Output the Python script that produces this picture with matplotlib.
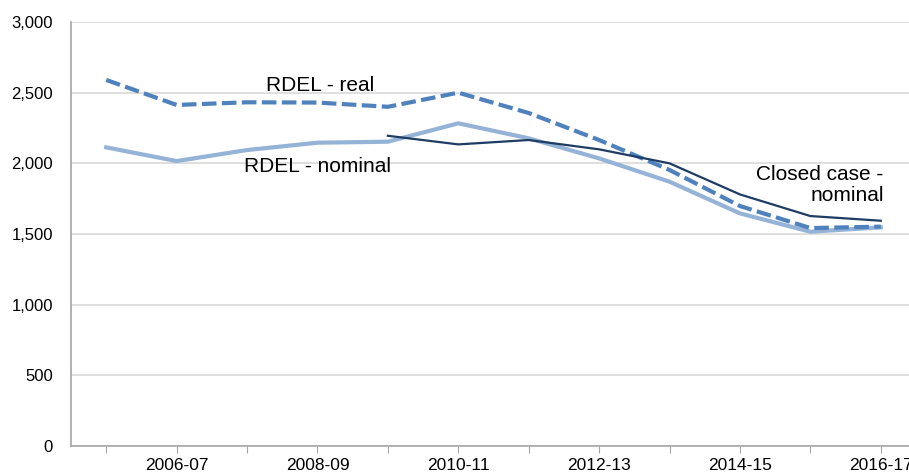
import numpy as np
import matplotlib.pyplot as plt

plt.rcParams['font.family'] = ['Liberation Sans', 'DejaVu Sans']

# ============================================================
# Data
# ============================================================
years = ['2005-06', '2006-07', '2007-08', '2008-09', '2009-10', '2010-11',
         '2011-12', '2012-13', '2013-14', '2014-15', '2015-16', '2016-17']
rdel_real = [2590, 2413, 2432, 2430, 2400, 2500, 2356, 2165, 1953, 1698, 1542, 1552]
rdel_nominal = [2113, 2016, 2094, 2146, 2153, 2283, 2177, 2035, 1870, 1646, 1516, 1547]
closed_nominal = [np.nan, np.nan, np.nan, np.nan, 2195, 2134, 2165, 2099, 2000, 1780, 1627, 1594]

x = np.arange(len(years))

# ============================================================
# Plot
# ============================================================
fig = plt.figure(figsize=(9.09, 4.74), dpi=100)
ax = fig.add_axes([71 / 909, 28 / 474, 845 / 909, 424 / 474])

ax.plot(x, rdel_nominal, color='#95B3D7', lw=3, solid_joinstyle='round', zorder=3)
ax.plot(x, rdel_real, color='#4F81BD', lw=3, ls=(0, (3.5, 1.3)), zorder=4)
ax.plot(x, closed_nominal, color='#1F3C64', lw=1.6, zorder=5)

ax.text(3.04, 2554, 'RDEL - real', ha='center', va='center', fontsize=15)
ax.text(3.0, 1981, 'RDEL - nominal', ha='center', va='center', fontsize=15)
ax.text(11.04, 1847, 'Closed case -\nnominal', ha='right', va='center',
        fontsize=15, linespacing=1.15)

ax.set_xlim(-0.5, 11.5)
ax.set_ylim(0, 3000)
ax.set_yticks(np.arange(0, 3001, 500))
ax.set_yticklabels([f'{v:,}' for v in range(0, 3001, 500)])
ax.set_xticks(x)
ax.set_xticklabels([y if i % 2 == 1 else '' for i, y in enumerate(years)])

ax.grid(axis='y', color='#D9D9D9', lw=1.2)
ax.set_axisbelow(True)
for s in ['top', 'right']:
    ax.spines[s].set_visible(False)
for s in ['left', 'bottom']:
    ax.spines[s].set_color('#A6A6A6')
    ax.spines[s].set_linewidth(1.2)
ax.tick_params(axis='y', length=0, labelsize=12, pad=13)
ax.tick_params(axis='x', length=5, color='#A6A6A6', labelsize=12.5, pad=4)

fig.savefig('out.png', dpi=100)
